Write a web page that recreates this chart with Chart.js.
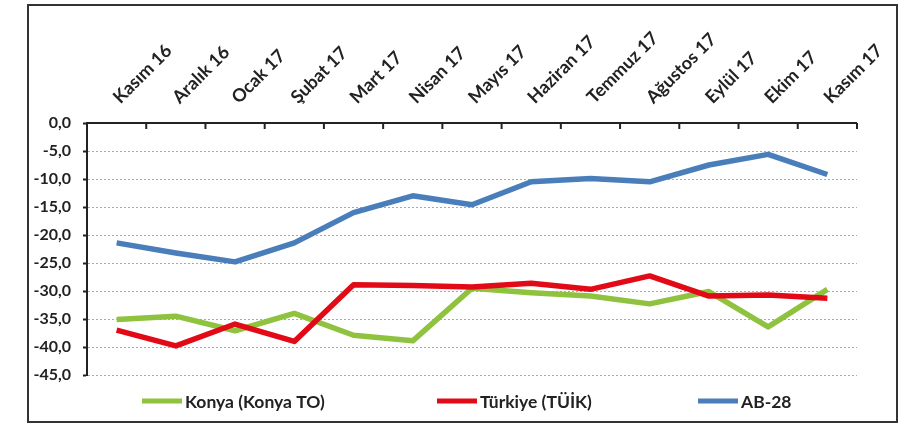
<!DOCTYPE html>
<html><head><meta charset="utf-8">
<script src="https://cdn.jsdelivr.net/npm/chart.js@4.4.0/dist/chart.umd.min.js"></script>
<style>
html,body{margin:0;padding:0;background:#fff;width:921px;height:427px;overflow:hidden}
#frame{position:absolute;left:27px;top:4px;width:867px;height:415px;border:2px solid #333;background:#fff}
canvas{display:block}
</style></head><body>
<div id="frame"><canvas id="c" width="867" height="415" style="width:867px;height:415px"></canvas></div>
<script>
const categories = ["Kasım 16","Aralık 16","Ocak 17","Şubat 17","Mart 17","Nisan 17","Mayıs 17","Haziran 17","Temmuz 17","Ağustos 17","Eylül 17","Ekim 17","Kasım 17"];
const konya   = [-35.1,-34.5,-37.1,-34.0,-37.9,-38.9,-29.5,-30.3,-30.9,-32.3,-30.1,-36.4,-29.7];
const turkiye = [-37.0,-39.8,-35.9,-39.0,-28.9,-29.0,-29.3,-28.6,-29.7,-27.3,-30.9,-30.7,-31.3];
const ab28    = [-21.4,-23.2,-24.8,-21.4,-16.0,-13.0,-14.6,-10.5,-9.9,-10.5,-7.5,-5.6,-9.2];
const seriesNames = ["Konya (Konya TO)","Türkiye (TÜİK)","AB-28"];
const yMin = -45, yMax = 0, yStep = 5;

const FONT = "Lato";
const TXT = "#222";
const colors = ["#8FC23F","#E30A17","#4A7EBB"];

const innerTicks = {
  id: 'innerTicks',
  afterDraw(chart) {
    const xs = chart.scales.x, ctx = chart.ctx, ca = chart.chartArea;
    const n = categories.length;
    const step = xs.getPixelForValue(1) - xs.getPixelForValue(0);
    ctx.save();
    ctx.strokeStyle = TXT; ctx.lineWidth = 2;
    for (let i = 0; i <= n; i++) {
      const x = xs.getPixelForValue(0) - step/2 + i*step;
      ctx.beginPath(); ctx.moveTo(x, ca.top); ctx.lineTo(x, ca.top + 6); ctx.stroke();
    }
    ctx.restore();
  }
};

const legendX = [113, 408, 669];
const customLegend = {
  id: 'customLegend',
  afterDraw(chart) {
    const ctx = chart.ctx;
    const y = 395;
    ctx.save();
    ctx.font = "bold 17.5px " + FONT;
    ctx.textBaseline = 'middle';
    chart.data.datasets.forEach((ds, i) => {
      const x = legendX[i];
      ctx.strokeStyle = ds.borderColor; ctx.lineWidth = 5;
      ctx.beginPath(); ctx.moveTo(x, y); ctx.lineTo(x + 40, y); ctx.stroke();
      ctx.fillStyle = TXT;
      ctx.fillText(ds.label, x + 43, y + 1);
    });
    ctx.restore();
  }
};

const mk = (label, data, color, order) => ({
  label, data, borderColor: color, backgroundColor: color, borderWidth: 5.5,
  pointRadius: 0, pointHoverRadius: 0, tension: 0, fill: false, order,
  borderJoinStyle: 'round', borderCapStyle: 'butt'
});

new Chart(document.getElementById('c'), {
  type: 'line',
  data: {
    labels: categories,
    datasets: [
      mk(seriesNames[0], konya, colors[0], 3),
      mk(seriesNames[1], turkiye, colors[1], 2),
      mk(seriesNames[2], ab28, colors[2], 1)
    ]
  },
  options: {
    responsive: false,
    animation: false,
    devicePixelRatio: 1,
    layout: { padding: { left: 0, right: 29, top: 0, bottom: 46 } },
    plugins: { legend: { display: false }, tooltip: { enabled: false } },
    scales: {
      x: {
        position: 'top',
        offset: true,
        grid: { display: false, drawTicks: false, offset: true },
        border: { display: true, color: TXT, width: 2 },
        ticks: {
          autoSkip: false, minRotation: 45, maxRotation: 45, padding: 15, labelOffset: 15,
          color: TXT, font: { family: FONT, size: 18, weight: 'bold' }
        },
        afterFit(s) { s.height = 117; }
      },
      y: {
        min: yMin, max: yMax,
        grid: { color: '#a8a8a8', lineWidth: 1, drawTicks: true, tickLength: 4, tickColor: TXT, tickWidth: 2 },
        border: { display: true, color: TXT, width: 2, dash: [2, 2] },
        ticks: {
          stepSize: yStep, padding: 12, color: TXT,
          font: { family: FONT, size: 16, weight: 'bold' },
          callback: v => v.toFixed(1).replace('.', ',')
        },
        afterFit(s) { s.width = 58; }
      }
    }
  },
  plugins: [innerTicks, customLegend]
});
</script>
</body></html>
